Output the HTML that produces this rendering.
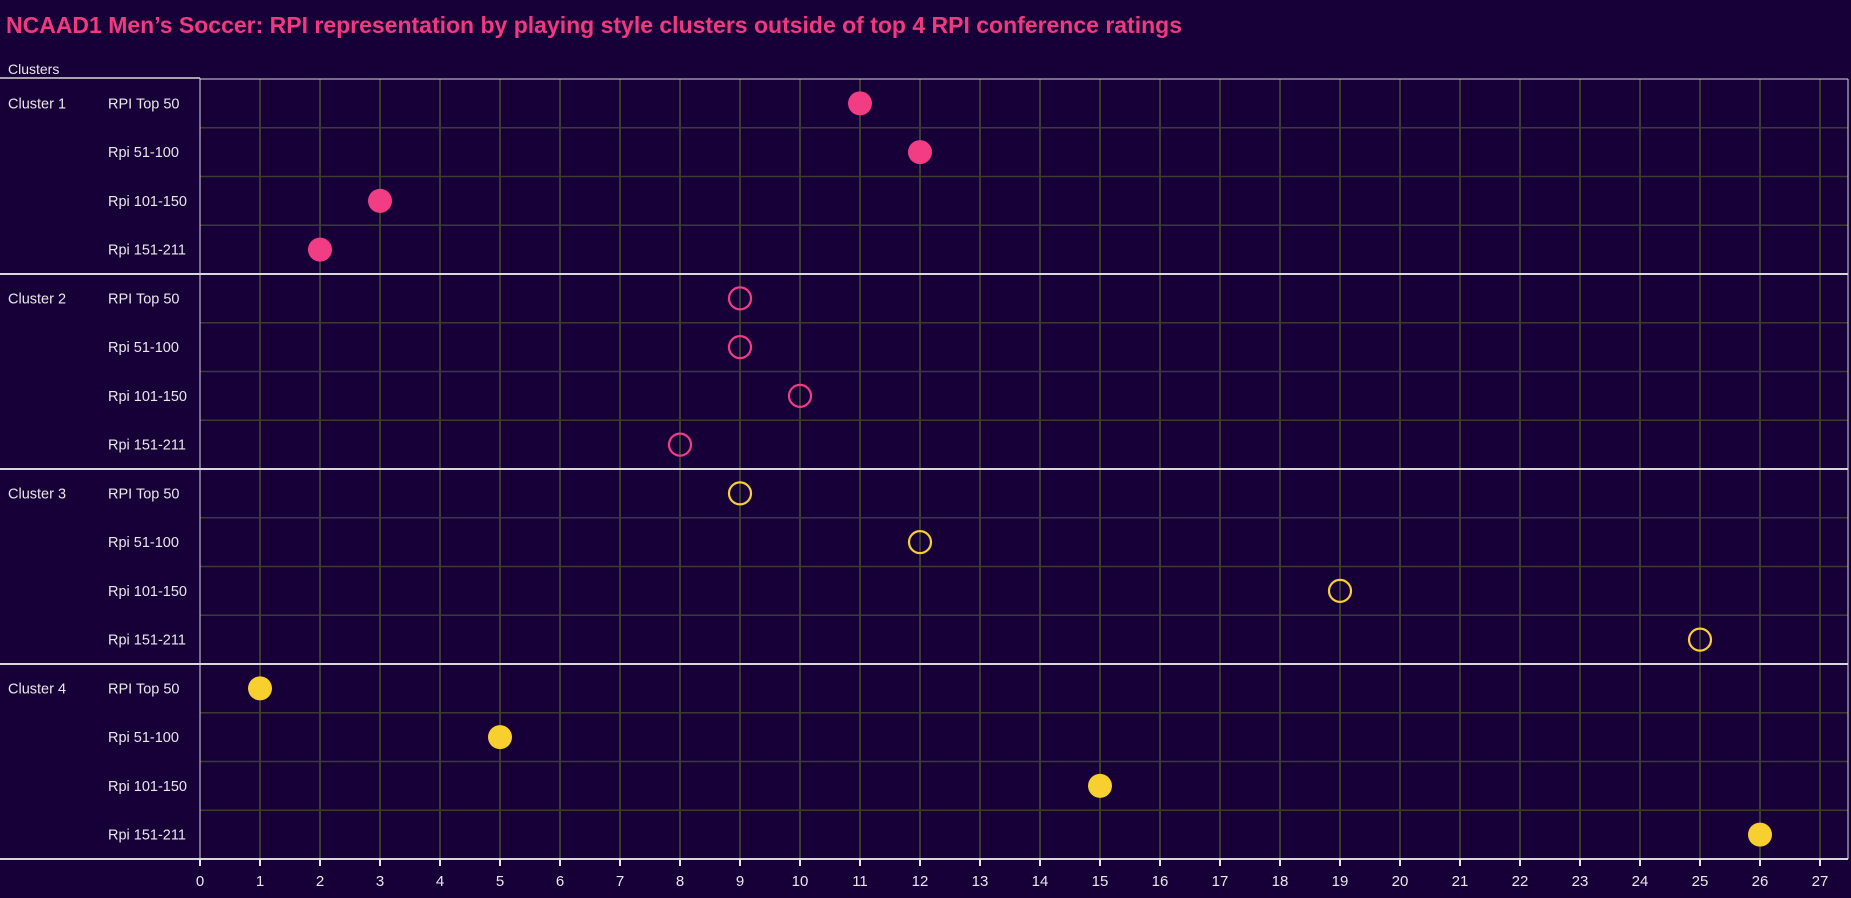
<!DOCTYPE html>
<html><head><meta charset="utf-8"><style>
html,body{margin:0;padding:0;background:#170038;}
svg{display:block;}
text{font-family:"Liberation Sans",sans-serif;}
</style></head><body>
<svg width="1851" height="898" xmlns="http://www.w3.org/2000/svg">
<rect width="1851" height="898" fill="#170038"/>
<text x="6" y="33" font-size="23" font-weight="bold" fill="#f0397f" textLength="1176" lengthAdjust="spacingAndGlyphs">NCAAD1 Men’s Soccer: RPI representation by playing style clusters outside of top 4 RPI conference ratings</text>
<text x="8" y="74" font-size="14" fill="#e8e8e8">Clusters</text>
<g id="grid" stroke="#3b3b30" stroke-width="2">
</g>
<g id="main"></g>
</svg>
<script>
const svg=document.querySelector('svg');
const NS='http://www.w3.org/2000/svg';
function el(t,a,txt){const e=document.createElementNS(NS,t);for(const k in a)e.setAttribute(k,a[k]);if(txt!==undefined)e.textContent=txt;svg.appendChild(e);return e;}
const x0=200,ux=60,y0=79,rh=48.75,yb=859;
// vertical gridlines
for(let i=1;i<=27;i++){el('line',{x1:x0+i*ux,x2:x0+i*ux,y1:y0,y2:yb,stroke:'#3b3b30','stroke-width':2});}
// horizontal row lines
for(let r=1;r<16;r++){if(r%4)el('line',{x1:x0,x2:1848,y1:y0+r*rh,y2:y0+r*rh,stroke:'#3b3b30','stroke-width':1.5});}
// borders
el('line',{x1:0,x2:x0,y1:78,y2:78,stroke:'#d8d8d8','stroke-width':1.5});
el('line',{x1:x0,x2:1848,y1:79,y2:79,stroke:'#d8d8d8','stroke-width':1});
el('line',{x1:x0,x2:x0,y1:78,y2:yb,stroke:'#d8d8d8','stroke-width':1});
el('line',{x1:1848,x2:1848,y1:79,y2:yb,stroke:'#d8d8d8','stroke-width':1});
for(let c=1;c<4;c++){const y=y0+c*4*rh;el('line',{x1:0,x2:1848,y1:y,y2:y,stroke:'#d8d8d8','stroke-width':2});}
el('line',{x1:0,x2:1848,y1:yb,y2:yb,stroke:'#d8d8d8','stroke-width':2});
// ticks & labels
for(let i=0;i<=27;i++){const x=x0+i*ux;el('line',{x1:x,x2:x,y1:yb,y2:866,stroke:'#e8e8e8','stroke-width':2});
el('text',{x:x,y:886,'font-size':15,fill:'#e8e8e8','text-anchor':'middle'},String(i));}
const rows=['RPI Top 50','Rpi 51-100','Rpi 101-150','Rpi 151-211'];
const data=[[11,12,3,2],[9,9,10,8],[9,12,19,25],[1,5,15,26]];
const col=['#f23d84','#f23d84','#f7d02f','#f7d02f'];
const filled=[true,false,false,true];
for(let c=0;c<4;c++){
 el('text',{x:8,y:y0+c*4*rh+rh/2+5,'font-size':14.5,fill:'#e8e8e8'},'Cluster '+(c+1));
 for(let r=0;r<4;r++){const yc=y0+(c*4+r)*rh+rh/2;
  el('text',{x:108,y:yc+5,'font-size':14.5,fill:'#e8e8e8'},rows[r]);
  const cx=x0+data[c][r]*ux;
  if(filled[c])el('circle',{cx:cx,cy:yc,r:12,fill:col[c]});
  else el('circle',{cx:cx,cy:yc,r:11,fill:'none',stroke:col[c],'stroke-width':2.2});
 }}
</script>
</body></html>
